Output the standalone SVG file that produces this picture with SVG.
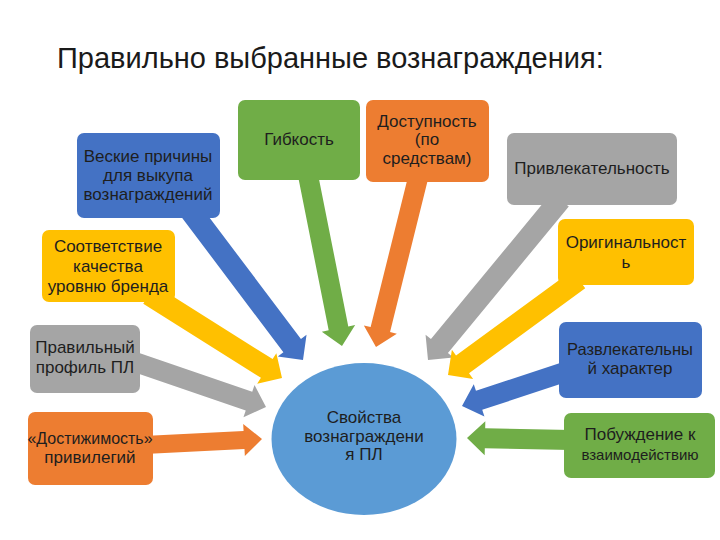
<svg xmlns="http://www.w3.org/2000/svg" width="720" height="540" viewBox="0 0 720 540">
<style>
text{font-family:"Liberation Sans","Noto Sans",Arial,sans-serif;font-size:17px;fill:#1e1e1e;text-anchor:middle}
.title{font-size:29px;text-anchor:start;fill:#1a1a1a}
.blue{fill:#4472C4}.green{fill:#70AD47}.orange{fill:#ED7D31}.gray{fill:#A5A5A5}.yellow{fill:#FFC000}
</style>
<rect width="720" height="540" fill="#ffffff"/>
<text class="title" x="57" y="68">Правильно выбранные вознаграждения:</text>
<g id="connectors">
<path class="blue" transform="translate(303,360) rotate(53.0)" d="M0,0 L-18,-18 L-18,-11 L-188,-11 L-188,11 L-18,11 L-18,18 Z"/>
<path class="green" transform="translate(342,346) rotate(78.75)" d="M0,0 L-18,-17 L-18,-10 L-175,-10 L-175,10 L-18,10 L-18,17 Z"/>
<path class="orange" transform="translate(376,347) rotate(103.96)" d="M0,0 L-18,-17 L-18,-10 L-175,-10 L-175,10 L-18,10 L-18,17 Z"/>
<path class="gray" transform="translate(428,360) rotate(129.5)" d="M0,0 L-18,-18 L-18,-11 L-208,-11 L-208,11 L-18,11 L-18,18 Z"/>
<path class="yellow" transform="translate(448,375) rotate(143.8)" d="M0,0 L-18,-18 L-18,-11 L-162,-11 L-162,11 L-18,11 L-18,18 Z"/>
<path class="yellow" transform="translate(282,378) rotate(32.17)" d="M0,0 L-18,-18 L-18,-11 L-157,-11 L-157,11 L-18,11 L-18,18 Z"/>
<path class="gray" transform="translate(266,407) rotate(18.96)" d="M0,0 L-18,-17 L-18,-10 L-139,-10 L-139,10 L-18,10 L-18,17 Z"/>
<path class="orange" transform="translate(262,439) rotate(-2.94)" d="M0,0 L-18,-16 L-18,-9 L-118,-9 L-118,9 L-18,9 L-18,16 Z"/>
<path class="blue" transform="translate(462,406) rotate(161.73)" d="M0,0 L-18,-17 L-18,-10 L-109,-10 L-109,10 L-18,10 L-18,17 Z"/>
<path class="green" transform="translate(467,438) rotate(181.1)" d="M0,0 L-18,-17 L-18,-10 L-104,-10 L-104,10 L-18,10 L-18,17 Z"/>
</g>
<g id="n-veskie">
<rect class="blue" x="77" y="133" width="143" height="85" rx="7"/>
<text x="148" y="162">Веские причины</text>
<text x="148" y="181">для выкупа</text>
<text x="148" y="200">вознаграждений</text>
</g>
<g id="n-gibkost">
<rect class="green" x="238" y="100" width="122" height="80" rx="7"/>
<text x="299" y="145">Гибкость</text>
</g>
<g id="n-dostupnost">
<rect class="orange" x="366" y="100" width="123" height="82" rx="7"/>
<text x="427" y="127">Доступность</text>
<text x="427" y="145">(по</text>
<text x="427" y="164">средствам)</text>
</g>
<g id="n-privlek">
<rect class="gray" x="507" y="133" width="170" height="72" rx="7"/>
<text x="592" y="174">Привлекательность</text>
</g>
<g id="n-original">
<rect class="yellow" x="558" y="219" width="136" height="66" rx="7"/>
<text x="626" y="248">Оригинальност</text>
<text x="626" y="268">ь</text>
</g>
<g id="n-sootv">
<rect class="yellow" x="42" y="230" width="133" height="72" rx="7"/>
<text x="108" y="252">Соответствие</text>
<text x="108" y="272">качества</text>
<text x="108" y="292">уровню бренда</text>
</g>
<g id="n-profil">
<rect class="gray" x="30" y="325" width="110" height="68" rx="7"/>
<text x="85" y="353">Правильный</text>
<text x="85" y="373">профиль ПЛ</text>
</g>
<g id="n-dostizh">
<rect class="orange" x="28" y="412" width="125" height="73" rx="7"/>
<text x="90" y="444" style="font-size:16px">«Достижимость»</text>
<text x="90" y="463">привилегий</text>
</g>
<g id="n-razvlek">
<rect class="blue" x="559" y="322" width="143" height="76" rx="7"/>
<text x="630" y="355" style="font-size:16.5px">Развлекательны</text>
<text x="630" y="374">й характер</text>
</g>
<g id="n-pobuzhd">
<rect class="green" x="564" y="413" width="151" height="65" rx="7"/>
<text x="640" y="440">Побуждение к</text>
<text x="640" y="460" style="font-size:15px">взаимодействию</text>
</g>
<g id="n-center">
<ellipse cx="364" cy="439" rx="92.5" ry="76" fill="#5B9BD5"/>
<text x="364" y="423">Свойства</text>
<text x="364" y="442">вознаграждени</text>
<text x="364" y="460">я ПЛ</text>
</g>
</svg>
